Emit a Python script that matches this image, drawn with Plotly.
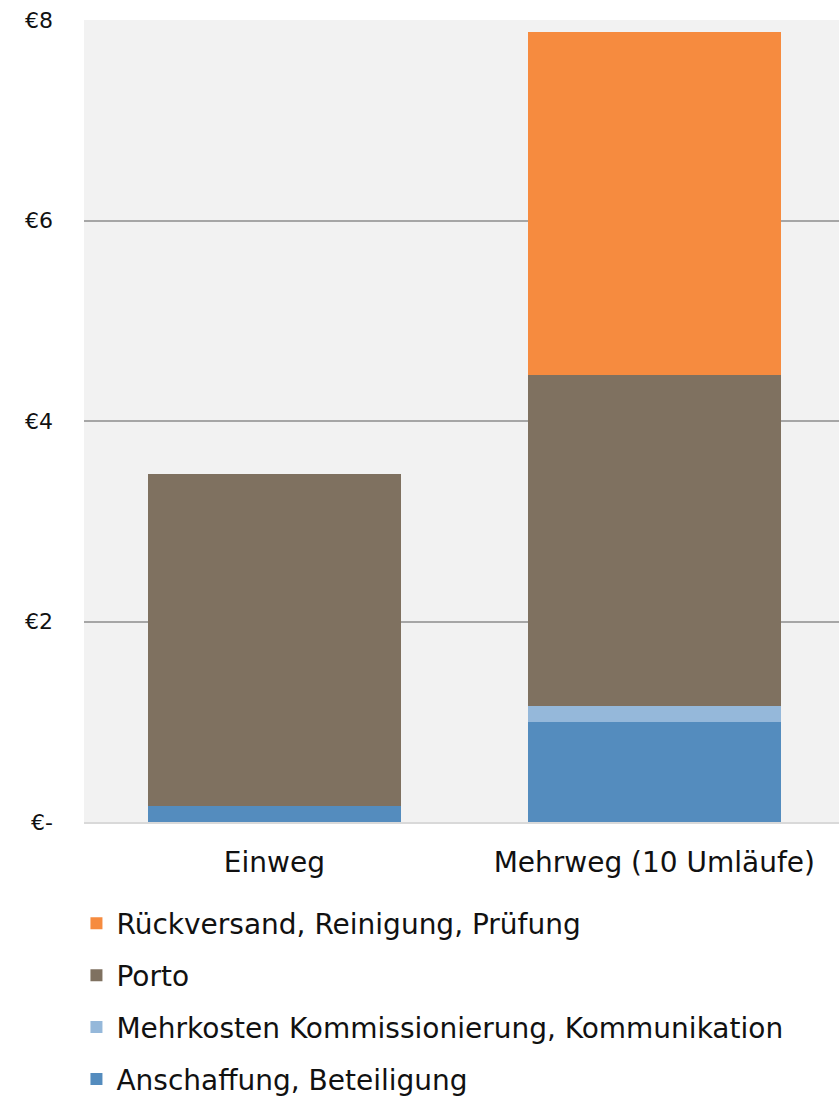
import plotly.graph_objects as go

# Kostenvergleich je Versandeinheit: Einweg vs. Mehrweg
categories = ["Einweg", "Mehrweg (10 Umläufe)"]

anschaffung = [0.16, 1.00]
mehrkosten = [0.00, 0.16]
porto = [3.31, 3.30]
rueckversand = [0.00, 3.42]

series = [
    ("Anschaffung, Beteiligung", anschaffung, "#548CBE"),
    ("Mehrkosten Kommissionierung, Kommunikation", mehrkosten, "#95B8DA"),
    ("Porto", porto, "#7F7160"),
    ("Rückversand, Reinigung, Prüfung", rueckversand, "#F68B3F"),
]

y_tickvals = [0, 2, 4, 6, 8]
y_ticktext = ["€-", "€2", "€4", "€6", "€8"]

FONT = "DejaVu Sans"

fig = go.Figure()
n = len(series)
for i, (name, values, color) in enumerate(series):
    fig.add_trace(go.Bar(
        name=name,
        x=categories,
        y=values,
        marker=dict(color=color, line=dict(width=0)),
        legendgroup=name,
        legendrank=n - i,
    ))

fig.update_layout(
    width=839,
    height=1097,
    barmode="stack",
    bargap=0.334,
    paper_bgcolor="white",
    plot_bgcolor="#F2F2F2",
    margin=dict(l=84, r=0, t=20, b=275, autoexpand=False),
    font=dict(family=FONT, color="#111111"),
    showlegend=True,
    legend=dict(
        orientation="v",
        traceorder="grouped",
        tracegroupgap=12.5,
        x=-0.01,
        xanchor="left",
        y=-0.0955,
        yanchor="top",
        font=dict(family=FONT, size=28, color="#111111"),
        bgcolor="rgba(0,0,0,0)",
    ),
)

fig.update_xaxes(
    type="category",
    range=[-0.501, 1.486],
    showgrid=False,
    showline=True,
    linecolor="#D9D9D9",
    linewidth=2,
    ticks="",
    ticklabelstandoff=14,
    tickfont=dict(family=FONT, size=28, color="#111111"),
)

fig.update_yaxes(
    range=[0, 8],
    tickvals=y_tickvals,
    ticktext=y_ticktext,
    showgrid=True,
    gridcolor="#A6A6A6",
    gridwidth=2,
    zeroline=False,
    showline=False,
    ticks="",
    ticklabelstandoff=30,
    tickfont=dict(family=FONT, size=22, color="#111111"),
)

fig.write_html("out.html")
